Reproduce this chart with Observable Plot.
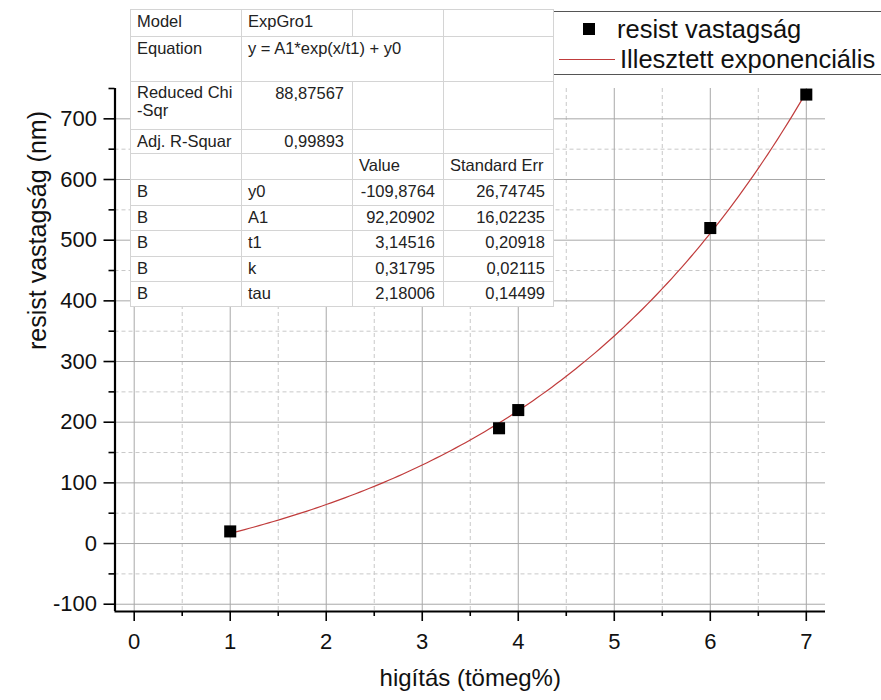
<!DOCTYPE html>
<html>
<head>
<meta charset="utf-8">
<script src="https://cdn.jsdelivr.net/npm/d3@7"></script>
<script src="https://cdn.jsdelivr.net/npm/@observablehq/plot@0.6"></script>
<style>
  html, body { margin: 0; padding: 0; background: #fff; overflow: hidden; }
  #wrap { position: relative; width: 881px; height: 700px; font-family: "Liberation Sans", Arial, sans-serif; }
  #chart { position: absolute; left: 0; top: 0; }
  #fit { position: absolute; left: 130px; top: 9px; border-collapse: collapse; table-layout: fixed;
         background: #fff; font-size: 16.5px; color: #222; border: 1.5px solid #555; }
  #fit td { border: 1px solid #d4d4d4; padding: 1px 6px 0 6px; vertical-align: top; line-height: 20px;
            overflow: hidden; white-space: nowrap; }
  #fit td.num { text-align: right; padding-right: 8px; }
  #fit td.wrap { white-space: normal; line-height: 18px; }
  #legend { position: absolute; left: 553px; top: 11px; width: 360px; height: 62px;
            border: 1.5px solid #555; background: #fff; font-size: 25.5px; color: #111; }
  #legend .row { position: absolute; left: 0; height: 30px; line-height: 30px; white-space: nowrap; }
  #legend .sym { position: absolute; background: #000; }
</style>
</head>
<body>
<div id="wrap">
  <div id="chart"></div>
  <div id="legend"></div>
  <table id="fit"></table>
</div>
<script>
// Measured resist thickness vs. dilution
const dilution = [1, 3.8, 4, 6, 7];
const thickness = [20, 190, 220, 520, 740];

// Fit report (ExpGro1 model)
const modelName = "ExpGro1";
const equationText = "y = A1*exp(x/t1) + y0";
const reducedChiSqr = "88,87567";
const adjRSquare = "0,99893";
const paramNames = ["y0", "A1", "t1", "k", "tau"];
const paramValues = [-109.8764, 92.20902, 3.14516, 0.31795, 2.18006];
const paramErrors = [26.74745, 16.02235, 0.20918, 0.02115, 0.14499];

// Axis ticks
const xMajor = [0, 1, 2, 3, 4, 5, 6, 7];
const xMinor = [0.5, 1.5, 2.5, 3.5, 4.5, 5.5, 6.5];
const yMajor = [-100, 0, 100, 200, 300, 400, 500, 600, 700];
const yMinor = [-50, 50, 150, 250, 350, 450, 550, 650, 750];

const xLabel = "higítás (tömeg%)";
const yLabel = "resist vastagság (nm)";
const legendLabels = ["resist vastagság", "Illesztett exponenciális"];

const fitColor = "#c03c3c";

// Fitted curve from the reported parameters, over the measured range
const p = Object.fromEntries(paramNames.map((n, i) => [n, paramValues[i]]));
const fitX = d3.range(dilution[0], dilution[dilution.length - 1] + 1e-9, 0.05);
const fitCurve = fitX.map(x => ({x, y: p.A1 * Math.exp(x / p.t1) + p.y0}));

const points = dilution.map((x, i) => ({x, y: thickness[i]}));

const xDomain = [-0.2, 7.2];
const yDomain = [-112, 750];
const plainNum = d => String(d);

const plot = Plot.plot({
  width: 881,
  height: 700,
  marginLeft: 114.5,
  marginRight: 56,
  marginTop: 88,
  marginBottom: 89,
  style: {fontFamily: '"Liberation Sans", Arial, sans-serif', background: "#fff", color: "#111"},
  x: {domain: xDomain},
  y: {domain: yDomain},
  marks: [
    // grid
    Plot.gridX(xMinor, {stroke: "#c8c8c8", strokeOpacity: 1, strokeDasharray: "4,3"}),
    Plot.gridY(yMinor.filter(v => v < 750), {stroke: "#c8c8c8", strokeOpacity: 1, strokeDasharray: "4,3"}),
    Plot.gridX(xMajor, {stroke: "#a8a8a8", strokeOpacity: 1}),
    Plot.gridY(yMajor, {stroke: "#a8a8a8", strokeOpacity: 1}),
    // axes
    Plot.axisX(xMajor, {tickSize: 10, tickPadding: 12, fontSize: 22, strokeWidth: 1.6, stroke: "#000", tickFormat: plainNum, label: null}),
    Plot.axisX(xMinor, {tickSize: 5, strokeWidth: 1.6, stroke: "#000", tickFormat: () => "", label: null}),
    Plot.axisY(yMajor, {tickSize: 11, tickPadding: 7, fontSize: 22, strokeWidth: 1.6, stroke: "#000", tickFormat: plainNum, label: null}),
    Plot.axisY(yMinor, {tickSize: 6, strokeWidth: 1.6, stroke: "#000", tickFormat: () => "", label: null}),
    Plot.ruleX([xDomain[0]], {stroke: "#000", strokeWidth: 2.2}),
    Plot.ruleY([yDomain[0]], {stroke: "#000", strokeWidth: 2.2}),
    // axis titles
    Plot.text([xLabel], {frameAnchor: "bottom", dy: 74, fontSize: 24, fill: "#111"}),
    Plot.text([yLabel], {frameAnchor: "left", dx: -77, rotate: -90, fontSize: 25, fill: "#111"}),
    // data
    Plot.line(fitCurve, {x: "x", y: "y", stroke: fitColor, strokeWidth: 1.2, curve: "linear"}),
    Plot.dot(points, {x: "x", y: "y", symbol: "square", r: 6.8, fill: "#000", stroke: "none"})
  ]
});
document.getElementById("chart").appendChild(plot);

// Fit report table
const fmt = v => String(v).replace(".", ",");
const colW = [111, 111, 91, 110];
const rowH = [27, 45, 48, 24, 26, 26, 25, 26, 25, 25];
const table = document.getElementById("fit");
const cg = document.createElement("colgroup");
colW.forEach(w => { const c = document.createElement("col"); c.style.width = w + "px"; cg.appendChild(c); });
table.appendChild(cg);

const rows = [
  [{t: "Model"}, {t: modelName}, {t: ""}, {t: ""}],
  [{t: "Equation"}, {t: equationText, span: 2}, {t: ""}],
  [{t: "Reduced Chi -Sqr", cls: "wrap"}, {t: reducedChiSqr, cls: "num"}, {t: ""}, {t: ""}],
  [{t: "Adj. R-Squar"}, {t: adjRSquare, cls: "num"}, {t: ""}, {t: ""}],
  [{t: ""}, {t: ""}, {t: "Value"}, {t: "Standard Err"}],
  ...paramNames.map((n, i) => [{t: "B"}, {t: n}, {t: fmt(paramValues[i]), cls: "num"}, {t: fmt(paramErrors[i]), cls: "num"}])
];
rows.forEach((r, i) => {
  const tr = document.createElement("tr");
  tr.style.height = rowH[i] + "px";
  r.forEach(c => {
    const td = document.createElement("td");
    td.textContent = c.t;
    if (c.span) td.colSpan = c.span;
    if (c.cls) td.className = c.cls;
    td.style.height = (rowH[i] - 2) + "px";
    tr.appendChild(td);
  });
  table.appendChild(tr);
});

// Legend
const legend = document.getElementById("legend");
const r1 = document.createElement("div");
r1.className = "row"; r1.style.top = "2px"; r1.style.left = "63px";
r1.textContent = legendLabels[0];
const sq = document.createElement("div");
sq.className = "sym";
sq.style.cssText = "left:29px;top:11px;width:12px;height:12px;";
const r2 = document.createElement("div");
r2.className = "row"; r2.style.top = "32px"; r2.style.left = "66px";
r2.textContent = legendLabels[1];
const ln = document.createElement("div");
ln.className = "sym";
ln.style.cssText = "left:5px;top:47px;width:56px;height:1.4px;background:" + fitColor + ";";
legend.append(sq, r1, ln, r2);
</script>
</body>
</html>
